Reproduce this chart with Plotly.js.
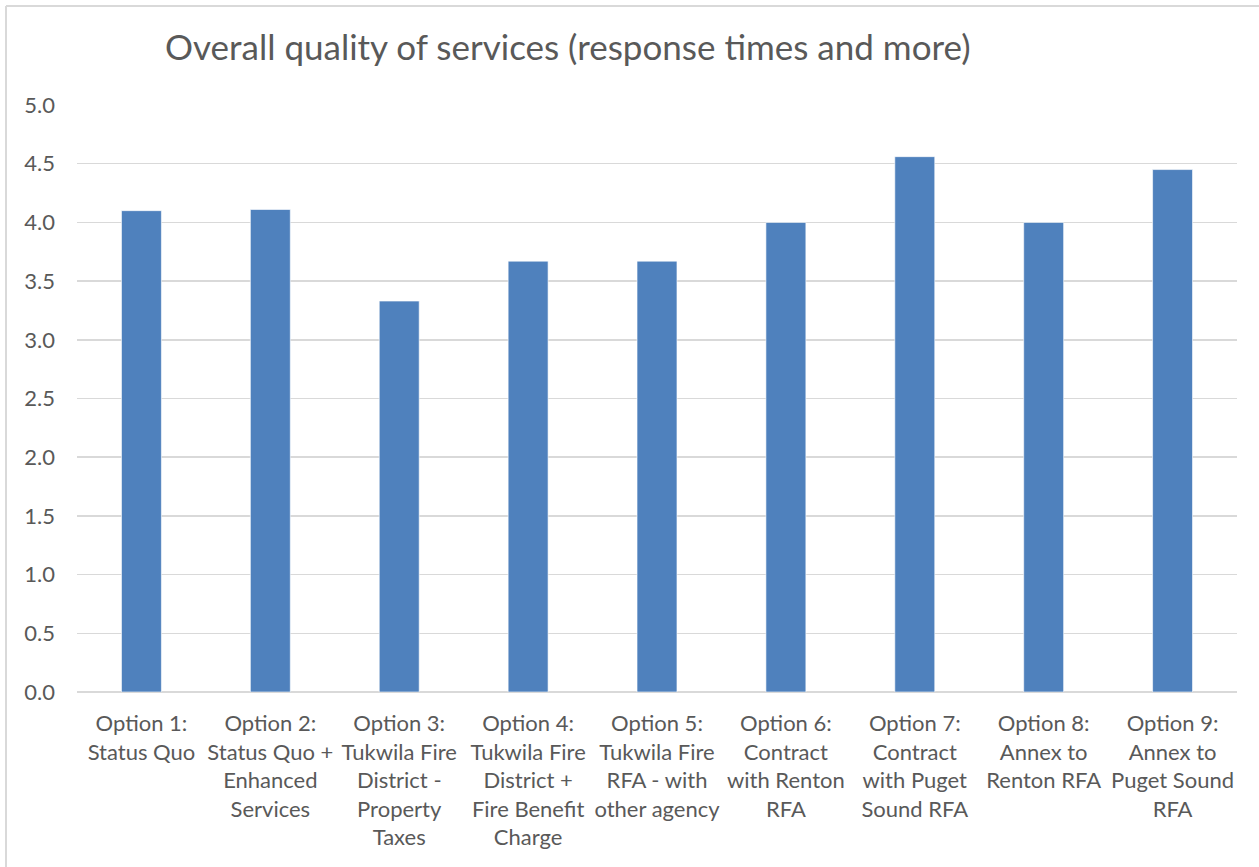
<!DOCTYPE html>
<html>
<head>
<meta charset="utf-8">
<script src="https://cdn.plot.ly/plotly-3.0.1.min.js"></script>
<style>
  html, body { margin: 0; padding: 0; background: #ffffff; }
  #chart { width: 1259px; height: 867px; }
</style>
</head>
<body>
<div id="chart"></div>
<script>
// Survey scores per service option
const categories = [
  "Option 1:<br>Status Quo",
  "Option 2:<br>Status Quo +<br>Enhanced<br>Services",
  "Option 3:<br>Tukwila Fire<br>District -<br>Property<br>Taxes",
  "Option 4:<br>Tukwila Fire<br>District +<br>Fire Benefit<br>Charge",
  "Option 5:<br>Tukwila Fire<br>RFA - with<br>other agency",
  "Option 6:<br>Contract<br>with Renton<br>RFA",
  "Option 7:<br>Contract<br>with Puget<br>Sound RFA",
  "Option 8:<br>Annex to<br>Renton RFA",
  "Option 9:<br>Annex to<br>Puget Sound<br>RFA"
];
const scores = [4.10, 4.11, 3.33, 3.67, 3.67, 4.00, 4.56, 4.00, 4.45];
const yTicks = [0, 0.5, 1, 1.5, 2, 2.5, 3, 3.5, 4, 4.5, 5];
const yTickLabels = ["0.0", "0.5", "1.0", "1.5", "2.0", "2.5", "3.0", "3.5", "4.0", "4.5", "5.0"];
const chartTitle = "Overall quality of services (response times and more)";

const textColor = "#595959";
const gridColor = "#D9D9D9";
const fontFamily = "Lato, 'Open Sans', sans-serif";

const trace = {
  type: "bar",
  x: categories,
  y: scores,
  marker: { color: "#4F81BD", line: { color: "rgba(255,255,255,0.6)", width: 1 } },
  hoverinfo: "y"
};

const layout = {
  width: 1259,
  height: 867,
  paper_bgcolor: "#ffffff",
  plot_bgcolor: "#ffffff",
  margin: { l: 77, r: 22, t: 105, b: 175 },
  bargap: 0.69,
  showlegend: false,
  font: { family: fontFamily, color: textColor, size: 22 },
  title: {
    text: chartTitle,
    font: { family: fontFamily, size: 35, color: textColor },
    x: 0.451, xref: "container", xanchor: "center",
    y: 0.945, yref: "container", yanchor: "middle"
  },
  xaxis: {
    type: "category",
    tickangle: 0,
    ticks: "",
    showgrid: false,
    showline: false,
    zeroline: false,
    ticklabelstandoff: 16,
    tickfont: { family: fontFamily, size: 22, color: textColor },
    automargin: false
  },
  yaxis: {
    range: [0, 5],
    tickvals: yTicks,
    ticktext: yTickLabels,
    ticks: "",
    showgrid: true,
    gridcolor: gridColor,
    gridwidth: 1.5,
    zeroline: true,
    zerolinecolor: gridColor,
    zerolinewidth: 2,
    showline: false,
    ticklabelstandoff: 21,
    tickfont: { family: fontFamily, size: 22, color: textColor },
    automargin: false
  },
  shapes: [
    // chart area frame (top and left edges)
    { type: "line", xref: "paper", yref: "paper",
      x0: -0.0612, x1: 1.03, y0: 1.1687, y1: 1.1687,
      line: { color: gridColor, width: 2 } },
    { type: "line", xref: "paper", yref: "paper",
      x0: -0.0612, x1: -0.0612, y0: 1.1687, y1: -0.31,
      line: { color: gridColor, width: 2 } }
  ]
};

Plotly.newPlot("chart", [trace], layout, { displayModeBar: false, staticPlot: true });
</script>
</body>
</html>
